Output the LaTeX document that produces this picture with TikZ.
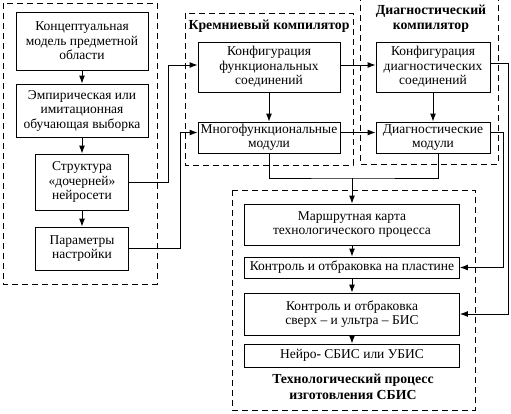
\documentclass[tikz,border=0pt]{standalone}
\usepackage{fontspec}
\setmainfont{Liberation Serif}
\usetikzlibrary{arrows.meta}

\begin{document}
\begin{tikzpicture}[x=1pt,y=-1pt,line width=0.9pt,font=\fontsize{13.5}{14.5}\selectfont]
        \tikzstyle{blocknode}=[
            rectangle,
            draw=black,
            align=center,
            inner sep=2pt
        ]
        \tikzstyle{groupbox}=[draw=black, dash pattern=on 6pt off 4pt]
        \tikzstyle{grouptitle}=[align=center, font=\fontsize{13.8}{15.5}\selectfont\bfseries]
        \tikzstyle{flow}=[-{Latex[length=8pt,width=6pt]}]

        \useasboundingbox (0,0) rectangle (511,413);

        % dashed groups
        \draw[groupbox] (3,3) rectangle (157,284);
        \draw[groupbox] (185,13) rectangle (353,165);
        \draw[groupbox] (360,-5) -- (360,164) -- (498,164) -- (498,-5);
        \draw[groupbox] (232,190) rectangle (475,410);

        \node[grouptitle] (silicon) at (269,26) {Кремниевый компилятор};
        \node[grouptitle] (diagtitle) at (431,18.5) {Диагностический\\компилятор};
        \node[grouptitle] (techtitle) at (353,387) {Технологический процесс\\изготовления СБИС};

        % model side
        \node[blocknode, minimum width=132, minimum height=58] (concept) at (82,41) {Концептуальная\\модель предметной\\области};
        \node[blocknode, minimum width=132, minimum height=53] (empiric) at (82,110.5) {Эмпирическая или\\имитационная\\обучающая выборка};
        \node[blocknode, minimum width=93, minimum height=56] (struct) at (82,182) {Структура\\«дочерней»\\нейросети};
        \node[blocknode, minimum width=93, minimum height=43] (params) at (82,248.5) {Параметры\\настройки};

        % compilers
        \node[blocknode, minimum width=142, minimum height=50] (konfF) at (269,67) {Конфигурация\\функциональных\\соединений};
        \node[blocknode, minimum width=142, minimum height=31] (multi) at (269,137.5) {Многофункциональные\\модули};
        \node[blocknode, minimum width=114, minimum height=50] (konfD) at (433,67) {Конфигурация\\диагностических\\соединений};
        \node[blocknode, minimum width=114, minimum height=31] (diagM) at (433,137.5) {Диагностические\\модули};

        % process
        \node[blocknode, minimum width=215, minimum height=41] (route) at (352,224.5) {Маршрутная карта\\технологического процесса};
        \node[blocknode, minimum width=215, minimum height=21] (plate) at (352,267.5) {Контроль и отбраковка на пластине};
        \node[blocknode, minimum width=215, minimum height=42] (super) at (352,314) {Контроль и отбраковка\\сверх – и ультра – БИС};
        \node[blocknode, minimum width=215, minimum height=23] (neuro) at (352,355.5) {Нейро\textbf{-} СБИС или УБИС};

        \coordinate (merge) at (352,178);

        \draw[flow] (concept) -- (empiric);
        \draw[flow] (empiric) -- (struct);
        \draw[flow] (struct) -- (params);
        \draw[flow] (struct.east) -- ++(39,0) |- ([yshift=2pt]konfF.west);
        \draw[flow] (params.east) -- ++(51,0) |- ([yshift=5pt]multi.west);
        \draw[flow] (konfF) -- (multi);
        \draw[flow] ([yshift=2pt]konfF.east) -- ([yshift=2pt]konfD.west);
        \draw[flow] ([yshift=5pt]multi.east) -- ([yshift=5pt]diagM.west);
        \draw[flow] (konfD) -- (diagM);
        \draw (multi.south) |- (merge) -| ([xshift=5pt]diagM.south);
        \draw[flow] (merge) -- (route);
        \draw[flow] (route) -- (plate);
        \draw[flow] (plate) -- (super);
        \draw[flow] (super) -- (neuro);
        \draw[flow] ([yshift=4pt]konfD.east) -- ++(18,0) |- (super.east);
        \draw[flow] ([yshift=5pt]diagM.east) -- ++(13,0) |- (plate.east);

    \end{tikzpicture}
\end{document}
